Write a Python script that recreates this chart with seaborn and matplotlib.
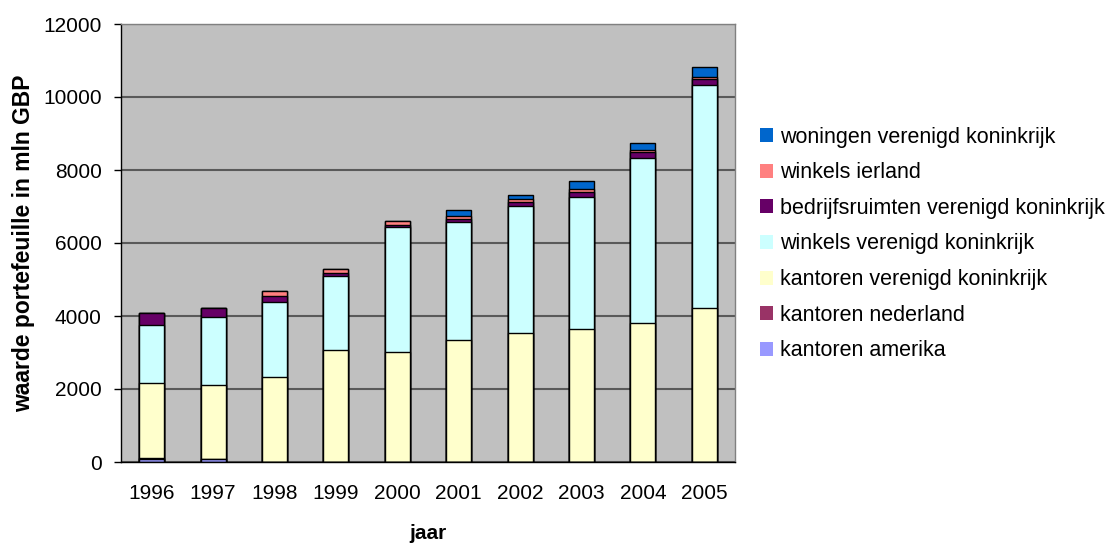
import numpy as np
import matplotlib
matplotlib.use("Agg")
import matplotlib.pyplot as plt
import matplotlib.patches as mpatches
import seaborn as sns

years = ["1996", "1997", "1998", "1999", "2000", "2001", "2002", "2003", "2004", "2005"]

kantoren_amerika = [80, 70, 0, 0, 0, 0, 0, 0, 0, 0]
kantoren_nederland = [25, 0, 0, 0, 0, 0, 0, 0, 0, 0]
kantoren_vk = [2050, 2040, 2330, 3065, 3020, 3340, 3540, 3635, 3815, 4210]
winkels_vk = [1600, 1850, 2045, 2030, 3410, 3245, 3480, 3615, 4520, 6125]
bedrijfsruimten_vk = [320, 255, 180, 90, 72, 65, 95, 150, 147, 165]
winkels_ierland = [0, 0, 120, 93, 92, 90, 90, 90, 55, 38]
woningen_vk = [0, 0, 0, 0, 0, 155, 110, 200, 192, 273]

series_names = [
    "kantoren amerika",
    "kantoren nederland",
    "kantoren verenigd koninkrijk",
    "winkels verenigd koninkrijk",
    "bedrijfsruimten verenigd koninkrijk",
    "winkels ierland",
    "woningen verenigd koninkrijk",
]
series_values = [kantoren_amerika, kantoren_nederland, kantoren_vk, winkels_vk,
                 bedrijfsruimten_vk, winkels_ierland, woningen_vk]
series_colors = ["#9999FF", "#993366", "#FFFFCC", "#CCFFFF", "#660066", "#FF8080", "#0066CC"]

sns.set_style("white")
plt.rcParams["font.family"] = ["Liberation Sans", "DejaVu Sans"]
plt.rcParams["text.color"] = "black"
plt.rcParams["axes.labelcolor"] = "black"
plt.rcParams["xtick.color"] = "black"
plt.rcParams["ytick.color"] = "black"

fig = plt.figure(figsize=(11.11, 5.44), dpi=100)
ax = fig.add_axes([121 / 1111, 1 - 462 / 544, (735 - 121) / 1111, (462 - 24) / 544])
ax.set_facecolor("#C0C0C0")

cum = np.cumsum(np.array(series_values, dtype=float), axis=0)
for i in reversed(range(len(series_names))):
    sns.barplot(x=years, y=cum[i], order=years, color=series_colors[i], saturation=1,
                width=0.41, edgecolor="black", linewidth=1.0, errorbar=None, ax=ax)

ax.set_ylim(0, 12000)
ax.set_xlim(-0.5, 9.5)
ax.set_yticks(np.arange(0, 12001, 2000))
ax.yaxis.grid(True, color="#5a5a5a", linewidth=1.5)
ax.xaxis.grid(False)
ax.set_axisbelow(True)

ax.set_xticks(np.arange(-0.5, 10, 1), minor=True)
ax.tick_params(axis="x", which="major", length=0, labelsize=15, pad=16, labelcolor="black")
ax.tick_params(axis="x", which="minor", length=5, width=1, color="black", direction="out")
ax.tick_params(axis="y", which="major", length=5, width=1, color="black", direction="out",
               labelsize=15, pad=9, left=True, labelcolor="black")

for s in ["left", "bottom"]:
    ax.spines[s].set_color("black")
    ax.spines[s].set_linewidth(1)
for s in ["top", "right"]:
    ax.spines[s].set_color("#808080")
    ax.spines[s].set_linewidth(1)

ax.set_xlabel("jaar", fontsize=15, fontweight="bold", labelpad=15, color="black")
ax.set_ylabel("waarde portefeuille in mln GBP", fontsize=16.5, fontweight="bold", labelpad=6,
              color="black")

handles = [mpatches.Patch(facecolor=c, edgecolor="none", label=n)
           for n, c in zip(series_names, series_colors)]
fig.legend(handles=handles[::-1], loc="center left", bbox_to_anchor=(760 / 1111, 1 - 244 / 544),
           frameon=False, fontsize=15.5, handlelength=0.62, handleheight=0.62,
           handletextpad=0.33, labelspacing=0.68, borderpad=0, borderaxespad=0,
           labelcolor="black")

fig.savefig("out.png", dpi=100)
